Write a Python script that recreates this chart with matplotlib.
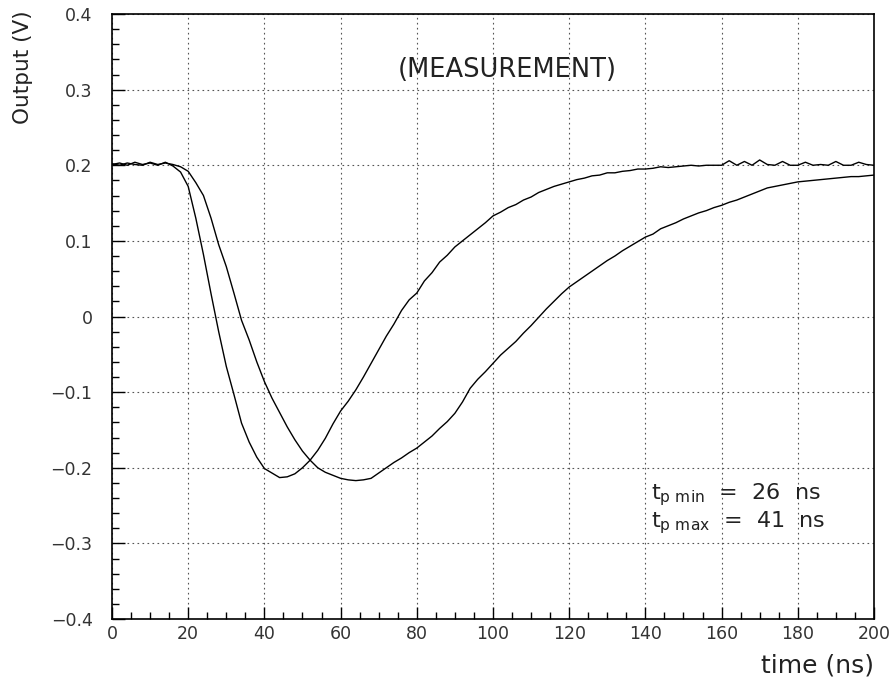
import numpy as np
import matplotlib
matplotlib.use('Agg')
import matplotlib.pyplot as plt
from matplotlib.ticker import MultipleLocator

# time axis (ns)
t = np.arange(0, 201, 2)

# fast pulse (t_p min)
v_fast = [0.201, 0.203, 0.200, 0.204, 0.201, 0.203, 0.200, 0.204, 0.199, 0.191,
          0.172, 0.130, 0.082, 0.030, -0.020, -0.066, -0.103, -0.141, -0.166, -0.186,
          -0.201, -0.207, -0.213, -0.212, -0.208, -0.200, -0.190, -0.177, -0.161, -0.142,
          -0.125, -0.112, -0.097, -0.080, -0.062, -0.044, -0.026, -0.010, 0.008, 0.022,
          0.031, 0.047, 0.058, 0.072, 0.081, 0.092, 0.100, 0.108, 0.116, 0.124,
          0.133, 0.138, 0.144, 0.148, 0.154, 0.158, 0.164, 0.168, 0.172, 0.175,
          0.178, 0.181, 0.183, 0.186, 0.187, 0.190, 0.190, 0.192, 0.193, 0.195,
          0.195, 0.196, 0.198, 0.197, 0.198, 0.199, 0.200, 0.199, 0.200, 0.200,
          0.200, 0.206, 0.200, 0.205, 0.200, 0.207, 0.201, 0.200, 0.205, 0.200,
          0.200, 0.204, 0.200, 0.201, 0.200, 0.205, 0.200, 0.200, 0.204, 0.201,
          0.200]

# slow pulse (t_p max)
v_slow = [0.202, 0.200, 0.203, 0.201, 0.200, 0.204, 0.201, 0.203, 0.201, 0.198,
          0.192, 0.177, 0.160, 0.130, 0.095, 0.066, 0.031, -0.005, -0.031, -0.060,
          -0.086, -0.108, -0.127, -0.146, -0.163, -0.178, -0.190, -0.200, -0.206, -0.210,
          -0.214, -0.216, -0.217, -0.216, -0.214, -0.207, -0.200, -0.193, -0.187, -0.180,
          -0.174, -0.166, -0.158, -0.148, -0.139, -0.128, -0.113, -0.095, -0.083, -0.073,
          -0.062, -0.051, -0.042, -0.033, -0.022, -0.012, -0.001, 0.010, 0.020, 0.030,
          0.039, 0.046, 0.053, 0.060, 0.067, 0.074, 0.080, 0.087, 0.093, 0.099,
          0.105, 0.109, 0.116, 0.120, 0.124, 0.129, 0.133, 0.137, 0.140, 0.144,
          0.147, 0.151, 0.154, 0.158, 0.162, 0.166, 0.170, 0.172, 0.174, 0.176,
          0.178, 0.179, 0.180, 0.181, 0.182, 0.183, 0.184, 0.185, 0.185, 0.186,
          0.187]

plt.rcParams['font.family'] = 'DejaVu Sans'
plt.rcParams['mathtext.fontset'] = 'dejavusans'

fig = plt.figure(figsize=(8.96, 6.8), dpi=100)
ax = fig.add_axes([0.125, 0.0897, 0.8504, 0.8897])

ax.plot(t, v_fast, color='black', lw=1.0)
ax.plot(t, v_slow, color='black', lw=1.0)

ax.set_xlim(0, 200)
ax.set_ylim(-0.4, 0.4)
ax.xaxis.set_major_locator(MultipleLocator(20))
ax.xaxis.set_minor_locator(MultipleLocator(5))
ax.yaxis.set_major_locator(MultipleLocator(0.1))
ax.yaxis.set_minor_locator(MultipleLocator(0.02))
ax.tick_params(which='both', direction='in', top=False, right=False, labelsize=12.5,
               color='black', labelcolor='#333333')
ax.tick_params(which='major', length=9, width=1)
ax.tick_params(which='minor', length=5, width=1)
ax.tick_params(axis='x', pad=4)
ax.tick_params(axis='y', pad=14)
ax.yaxis.set_major_formatter(plt.FuncFormatter(lambda v, p: '0' if abs(v) < 1e-9 else ('%.1f' % v).replace('-', '\u2212')))
ax.grid(True, which='major', color='#555555', linestyle=(0, (1.5, 3)), lw=0.8)
for s in ax.spines.values():
    s.set_linewidth(1.2)

ax.text(103.7, 0.326, '(MEASUREMENT)', fontsize=18.5, ha='center', va='center', color='#222222')
ax.text(141.5, -0.235, r'$\mathregular{t_{p\ min}}$  =  26  ns', fontsize=16, ha='left', va='center', color='#222222')
ax.text(141.5, -0.272, r'$\mathregular{t_{p\ max}}$  =  41  ns', fontsize=16, ha='left', va='center', color='#222222')

fig.text(0.975, 0.022, 'time (ns)', fontsize=18, ha='right', va='center', color='#222222')
fig.text(0.026, 0.985, 'Output (V)', fontsize=15.5, rotation=90, ha='center', va='top', color='#222222')

fig.savefig('out.png', dpi=100)
